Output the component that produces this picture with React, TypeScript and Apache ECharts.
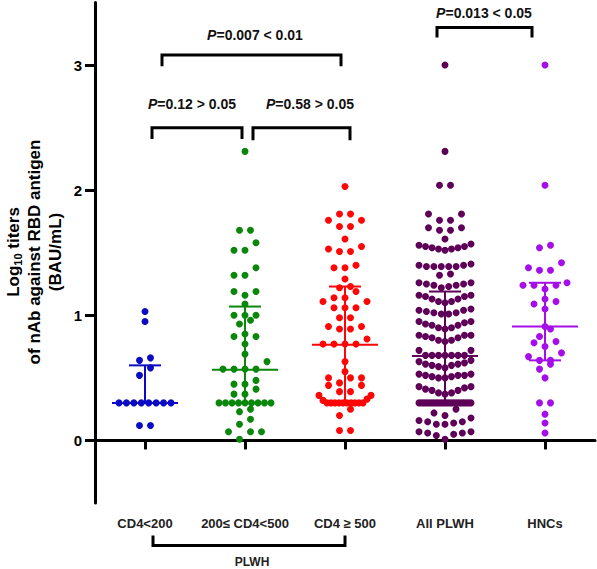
import { useEffect, useRef } from "react";
import * as echarts from "echarts";

// ---------- data ----------
const categories = ["CD4<200", "200≤ CD4<500", "CD4 ≥ 500", "All PLWH", "HNCs"];
const groupColors = ["#0b0bc4", "#0a870a", "#ff0505", "#5e0057", "#a50ee8"];

const cd4Below200 = [1.03, 0.95, 0.66, 0.64, 0.58, 0.52, 0.3, 0.3, 0.3, 0.3, 0.3, 0.3, 0.3, 0.3, 0.12, 0.12];
const cd4From200To500 = [
  2.31, 1.68, 1.68, 1.58, 1.52, 1.52, 1.38, 1.32, 1.32, 1.19, 1.19, 1.16, 1.09, 1.0, 1.0, 1.0, 0.96, 0.93,
  0.85, 0.83, 0.83, 0.77, 0.69, 0.63, 0.57, 0.57, 0.57, 0.57, 0.48, 0.45, 0.45, 0.41, 0.37, 0.37,
  0.3, 0.3, 0.3, 0.3, 0.3, 0.3, 0.3, 0.3, 0.3, 0.25, 0.23, 0.17, 0.13, 0.07, 0.07, 0.07, 0.01,
];
const cd4Above500 = [
  2.03, 1.81, 1.81, 1.76, 1.76, 1.71, 1.71, 1.61, 1.55, 1.53, 1.51, 1.51, 1.4, 1.38, 1.38, 1.29, 1.23, 1.22,
  1.19, 1.14, 1.14, 1.11, 1.11, 1.06, 1.06, 1.06, 0.98, 0.98, 0.91, 0.91, 0.89, 0.89, 0.81, 0.77, 0.77, 0.77,
  0.77, 0.63, 0.55, 0.5, 0.5, 0.5, 0.46, 0.44, 0.44, 0.39, 0.39, 0.36, 0.36, 0.33, 0.32,
  0.3, 0.3, 0.3, 0.3, 0.3, 0.3, 0.3, 0.3, 0.3, 0.3, 0.25, 0.2, 0.08, 0.08,
];
const allPLWH = [
  3.0, 2.31, 2.04, 2.04, 1.81, 1.81, 1.76, 1.76, 1.7, 1.7, 1.68, 1.68, 1.61,
  1.57, 1.56, 1.55, 1.55, 1.54, 1.54, 1.53, 1.53, 1.52,
  1.41, 1.4, 1.4, 1.39, 1.39, 1.39, 1.39, 1.39,
  1.33, 1.32,
  1.26, 1.26, 1.25, 1.25, 1.24, 1.24, 1.23, 1.22,
  1.16, 1.16, 1.15, 1.15, 1.13, 1.13, 1.11, 1.11, 1.1,
  1.05, 1.04, 1.04, 1.03, 1.02, 1.02, 1.01, 1.01,
  0.95, 0.95, 0.94, 0.93, 0.92, 0.92, 0.9, 0.9, 0.89,
  0.84, 0.84, 0.84, 0.83, 0.82, 0.82, 0.8, 0.8, 0.79,
  0.72, 0.72, 0.68, 0.68, 0.68, 0.68, 0.68, 0.68, 0.68,
  0.64, 0.63, 0.62, 0.61, 0.61, 0.6, 0.6, 0.59, 0.58,
  0.53, 0.53, 0.52, 0.52, 0.52, 0.51, 0.51, 0.5, 0.5,
  0.43, 0.43, 0.42, 0.41, 0.4, 0.4, 0.38, 0.38, 0.37,
  0.3, 0.3, 0.3, 0.3, 0.3, 0.3, 0.3, 0.3, 0.3, 0.3, 0.3, 0.3, 0.3, 0.3, 0.3, 0.3, 0.3, 0.3, 0.3, 0.3, 0.3, 0.3,
  0.25, 0.22, 0.2,
  0.18, 0.16, 0.15, 0.15, 0.14, 0.13, 0.13,
  0.07, 0.07, 0.06, 0.06, 0.05, 0.04, 0.01,
];
const hncs = [
  3.0, 2.04, 1.56, 1.54, 1.42, 1.38, 1.36, 1.36, 1.26, 1.24, 1.24, 1.24, 1.21, 1.13, 1.11, 1.09, 1.05,
  0.91, 0.89, 0.83, 0.79, 0.78, 0.75, 0.7, 0.67, 0.64, 0.64, 0.61, 0.57, 0.5, 0.3, 0.3, 0.21, 0.14, 0.06,
];
const groups = [cd4Below200, cd4From200To500, cd4Above500, allPLWH, hncs];

// median and interquartile range shown in the figure
const medians = [0.3, 0.565, 0.765, 0.675, 0.91];
const quartile1 = [0.3, 0.3, 0.3, 0.3, 0.64];
const quartile3 = [0.6, 1.07, 1.23, 1.19, 1.26];

const yTickValues = [0, 1, 2, 3];

// significance comparisons (labels after the italic P)
const comparisonLabels = ["=0.007 < 0.01", "=0.12 > 0.05", "=0.58 > 0.05", "=0.013 < 0.05"];
const subgroupLabel = "PLWH";

// ---------- layout ----------
const FONT = "'Liberation Sans', Arial, sans-serif";
const PX_PER_UNIT = 100;
const SLOT_PX = 11;
const MAX_HALF_PX = 26;
const ROW_BIN = 0.065;
// bracket geometry in axis units: [xFrom, xTo, yBar, yLeg, textX, textY]
const comparisonLayout = [
  [0.67, 2.46, 3.08, 2.99, 1.6, 3.24],
  [0.57, 1.47, 2.5, 2.41, 0.97, 2.69],
  [1.58, 2.55, 2.5, 2.4, 2.15, 2.69],
  [3.42, 4.37, 3.3, 3.22, 3.89, 3.42],
];
const subgroupLayout = [0.58, 2.5, -0.76, -0.84, 1.57, -0.972];

function swarm(values: number[], index: number): number[][] {
  const sorted = [...values].sort((a, b) => a - b);
  const rows: number[][] = [];
  for (const v of sorted) {
    const row = rows[rows.length - 1];
    if (row && v - row[0] < ROW_BIN) row.push(v);
    else rows.push([v]);
  }
  const pts: number[][] = [];
  for (const row of rows) {
    const n = row.length;
    const step = n > 1 ? Math.min(SLOT_PX, (2 * MAX_HALF_PX) / (n - 1)) : 0;
    const slots = row
      .map((_, k) => (k - (n - 1) / 2) * step)
      .sort((a, b) => Math.abs(a) - Math.abs(b) || a - b);
    row.forEach((v, k) => pts.push([index + 0.5 + slots[k] / PX_PER_UNIT, v]));
  }
  return pts;
}

const pRich = {
  i: { fontFamily: FONT, fontSize: 14, fontWeight: "bold", fontStyle: "italic", fill: "#111", color: "#111" },
  t: { fontFamily: FONT, fontSize: 14, fontWeight: "bold", fill: "#111", color: "#111" },
};

export default function App() {
  const ref = useRef<HTMLDivElement>(null);
  useEffect(() => {
    if (!ref.current) return;
    const chart = echarts.init(ref.current, null, { renderer: "svg" });
    const scatterSeries = groups.map((vals, i) => ({
      type: "scatter",
      name: categories[i],
      xAxisIndex: 1,
      yAxisIndex: 0,
      symbol: "circle",
      symbolSize: 7,
      itemStyle: { color: groupColors[i], opacity: 1 },
      data: swarm(vals, i),
      z: 2,
    }));
    const statsSeries = {
      type: "custom",
      xAxisIndex: 1,
      yAxisIndex: 0,
      z: 5,
      clip: false,
      data: categories.map((_, i) => [i, medians[i], quartile1[i], quartile3[i]]),
      renderItem: (_p: any, api: any) => {
        const i = api.value(0);
        const cx = i + 0.5;
        const m = api.coord([cx, api.value(1)]);
        const lo = api.coord([cx, api.value(2)]);
        const hi = api.coord([cx, api.value(3)]);
        const style = { stroke: groupColors[i], lineWidth: 2, fill: "none" };
        return {
          type: "group",
          children: [
            { type: "line", shape: { x1: lo[0], y1: lo[1], x2: hi[0], y2: hi[1] }, style },
            { type: "line", shape: { x1: m[0] - 33, y1: m[1], x2: m[0] + 33, y2: m[1] }, style },
            { type: "line", shape: { x1: lo[0] - 16, y1: lo[1], x2: lo[0] + 16, y2: lo[1] }, style },
            { type: "line", shape: { x1: hi[0] - 16, y1: hi[1], x2: hi[0] + 16, y2: hi[1] }, style },
          ],
        };
      },
    };
    const bracketStyle = { stroke: "#000", lineWidth: 3, fill: "none", lineJoin: "miter" };
    const bracketSeries = {
      type: "custom",
      xAxisIndex: 1,
      yAxisIndex: 0,
      z: 6,
      clip: false,
      silent: true,
      data: comparisonLabels.map((_, k) => [k]),
      renderItem: (_p: any, api: any) => {
        const k = api.value(0);
        const [x1, x2, yb, yl, tx, ty] = comparisonLayout[k];
        const a = api.coord([x1, yl]);
        const b = api.coord([x1, yb]);
        const c = api.coord([x2, yb]);
        const d = api.coord([x2, yl]);
        const t = api.coord([tx, ty]);
        return {
          type: "group",
          children: [
            { type: "polyline", shape: { points: [a, b, c, d] }, style: bracketStyle },
            {
              type: "text",
              style: {
                x: t[0],
                y: t[1],
                text: "{i|P}{t|" + comparisonLabels[k] + "}",
                rich: pRich,
                align: "center",
                verticalAlign: "middle",
                textAlign: "center",
                textVerticalAlign: "middle",
              },
            },
          ],
        };
      },
    };
    const subgroupSeries = {
      type: "custom",
      xAxisIndex: 1,
      yAxisIndex: 0,
      z: 6,
      clip: false,
      silent: true,
      data: [[0]],
      renderItem: (_p: any, api: any) => {
        const [x1, x2, yt, yb, tx, ty] = subgroupLayout;
        const a = api.coord([x1, yt]);
        const b = api.coord([x1, yb]);
        const c = api.coord([x2, yb]);
        const d = api.coord([x2, yt]);
        const t = api.coord([tx, ty]);
        return {
          type: "group",
          children: [
            { type: "polyline", shape: { points: [a, b, c, d] }, style: bracketStyle },
            {
              type: "text",
              style: {
                x: t[0],
                y: t[1],
                text: subgroupLabel,
                font: "bold 12px " + FONT,
                fill: "#222",
                align: "center",
                verticalAlign: "middle",
                textAlign: "center",
                textVerticalAlign: "middle",
              },
            },
          ],
        };
      },
    };

    chart.setOption({
      animation: false,
      backgroundColor: "#fff",
      grid: { left: 95, right: 2, top: 2.5, bottom: 66 },
      xAxis: [
        {
          type: "category",
          data: categories,
          boundaryGap: true,
          axisLine: { show: true, lineStyle: { color: "#000", width: 3 } },
          axisTick: { show: true, alignWithLabel: true, length: 9, lineStyle: { color: "#000", width: 3 } },
          axisLabel: { show: true, margin: 14, color: "#222", fontFamily: FONT, fontSize: 13, fontWeight: "bold", interval: 0 },
          splitLine: { show: false },
        },
        { type: "value", min: 0, max: 5, show: false },
      ],
      yAxis: {
        type: "value",
        min: -0.5,
        max: 3.5,
        interval: 0.5,
        axisLine: { show: true, lineStyle: { color: "#000", width: 3 } },
        axisTick: { show: true, length: 10, lineStyle: { color: "#000", width: 3 }, customValues: yTickValues },
        axisLabel: {
          show: true,
          margin: 13,
          color: "#000",
          fontFamily: FONT,
          fontSize: 15,
          fontWeight: "bold",
          customValues: yTickValues,
        },
        splitLine: { show: false },
      },
      graphic: [
        {
          type: "text",
          x: 34,
          y: 252,
          rotation: Math.PI / 2,
          style: {
            text: "{b|Log}{s|10}{b| titers}\n{b|of nAb against RBD antigen}\n{b|(BAU/mL)}",
            align: "center",
            verticalAlign: "middle",
            textAlign: "center",
            textVerticalAlign: "middle",
            fill: "#000",
            rich: {
              b: { fontFamily: FONT, fontSize: 17, fontWeight: "bold", lineHeight: 21, fill: "#000" },
              s: { fontFamily: FONT, fontSize: 11, fontWeight: "bold", lineHeight: 14, verticalAlign: "bottom", fill: "#000" },
            },
          },
        },
      ],
      series: [...scatterSeries, statsSeries, bracketSeries, subgroupSeries],
    });
    return () => chart.dispose();
  }, []);
  return <div ref={ref} style={{ position: "absolute", left: 0, top: 0, width: 597, height: 569 }} />;
}
